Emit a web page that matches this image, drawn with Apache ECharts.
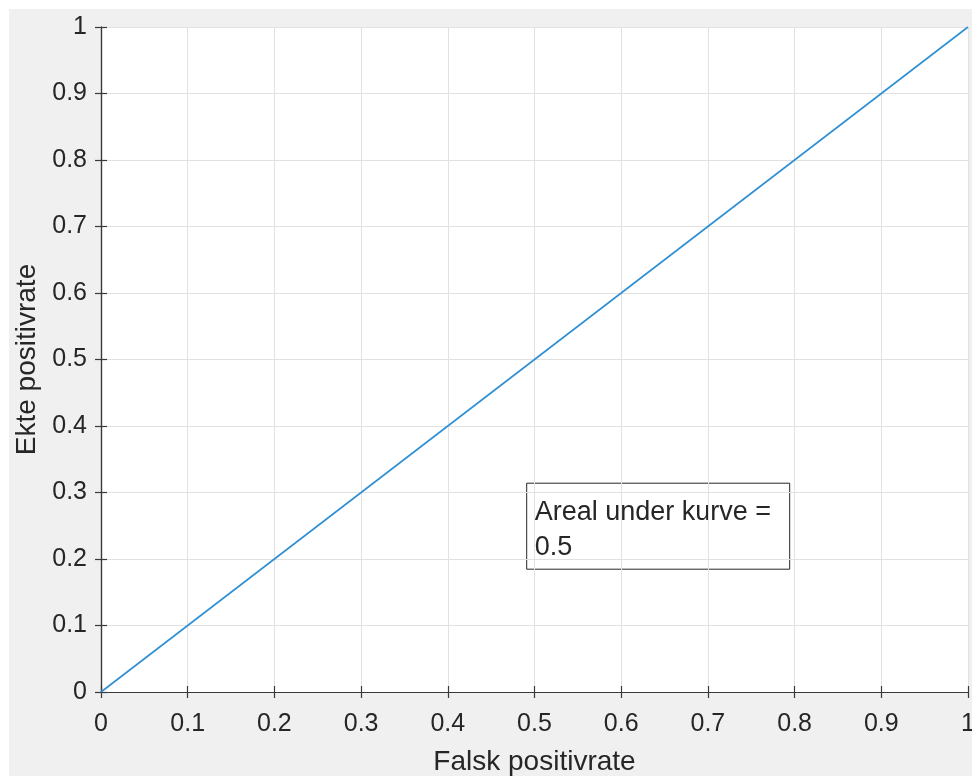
<!DOCTYPE html>
<html>
<head>
<meta charset="utf-8">
<script src="https://cdn.jsdelivr.net/npm/echarts@6/dist/echarts.min.js"></script>
<style>
html,body{margin:0;padding:0;background:#fff;}
#c{width:972px;height:776px;}
</style>
</head>
<body>
<div id="c"></div>
<script>
// Data
var fpr = [0, 1];
var tpr = [0, 1];
var tickValues = [0, 0.1, 0.2, 0.3, 0.4, 0.5, 0.6, 0.7, 0.8, 0.9, 1];
var xTitle = 'Falsk positivrate';
var yTitle = 'Ekte positivrate';
var annotationLines = ['Areal under kurve =', '0.5'];
var annotationAnchor = [0.491, 0.314];

var FONT = '"Liberation Sans", Arial, Helvetica, sans-serif';
var TXT = '#262626';
var AX = '#3a3a3a';

function fmt(v){ return String(Math.round(v*10)/10); }

var chart = echarts.init(document.getElementById('c'), null, {renderer:'canvas'});
var points = fpr.map(function(x,i){ return [x, tpr[i]]; });

var baseAxis = {
  type:'value', min:0, max:1, interval:0.1,
  axisLine:{show:true, lineStyle:{color:AX, width:1.2}},
  axisTick:{show:true, inside:true, length:6, lineStyle:{color:AX, width:1.2}},
  splitLine:{show:true, lineStyle:{color:'#e1e1e1', width:1}},
  axisLabel:{show:true, color:TXT, fontFamily:FONT, fontSize:25, margin:14,
    formatter:function(v){ return fmt(v); }}
};

var option = {
  animation:false,
  backgroundColor:'#ffffff',
  graphic:[{
    type:'rect', z:-10, silent:true,
    shape:{x:9, y:9, width:972, height:776},
    style:{fill:'#f0f0f0'}
  }],
  grid:{left:101, top:27, right:4, bottom:84, show:true, backgroundColor:'#ffffff', borderWidth:0,
    containLabel:false, outerBoundsMode:'none'},
  xAxis:[
    Object.assign({}, baseAxis, {
      position:'bottom',
      axisLabel:Object.assign({}, baseAxis.axisLabel, {margin:20}),
      name:xTitle, nameLocation:'middle', nameGap:56,
      nameTextStyle:{color:TXT, fontFamily:FONT, fontSize:28}
    }),
    {
      type:'value', min:0, max:1, interval:0.1, position:'top',
      axisLine:{show:true, lineStyle:{color:AX, width:1.2}},
      axisTick:{show:true, inside:true, length:6, lineStyle:{color:AX, width:1.2}},
      splitLine:{show:false}, axisLabel:{show:false}
    }
  ],
  yAxis:[
    Object.assign({}, baseAxis, {
      position:'left',
      name:yTitle, nameLocation:'middle', nameGap:60,
      nameTextStyle:{color:TXT, fontFamily:FONT, fontSize:28}
    }),
    {
      type:'value', min:0, max:1, interval:0.1, position:'right',
      axisLine:{show:true, lineStyle:{color:AX, width:1.2}},
      axisTick:{show:true, inside:true, length:6, lineStyle:{color:AX, width:1.2}},
      splitLine:{show:false}, axisLabel:{show:false}
    }
  ],
  series:[{
    type:'line', data:points, xAxisIndex:0, yAxisIndex:0,
    showSymbol:false, symbol:'none',
    lineStyle:{color:'#2f8fd5', width:1.6},
    z:5
  }]
};
chart.setOption(option);

// Annotation box anchored in data coordinates
var p = chart.convertToPixel({xAxisIndex:0, yAxisIndex:0}, annotationAnchor);
chart.setOption({
  graphic:[{
    type:'rect', z:-10, silent:true,
    shape:{x:9, y:9, width:972, height:776},
    style:{fill:'#f0f0f0'}
  },{
    type:'group', x:p[0], y:p[1], z:20,
    children:[{
      type:'rect',
      shape:{x:0, y:0, width:263, height:86},
      style:{fill:'#ffffff', stroke:'#262626', lineWidth:1}
    },{
      type:'text', x:8, y:12,
      style:{text:annotationLines.join('\n'), fill:TXT, font:'27px ' + FONT, lineHeight:35, textVerticalAlign:'top'}
    }]
  }]
});
</script>
</body>
</html>
